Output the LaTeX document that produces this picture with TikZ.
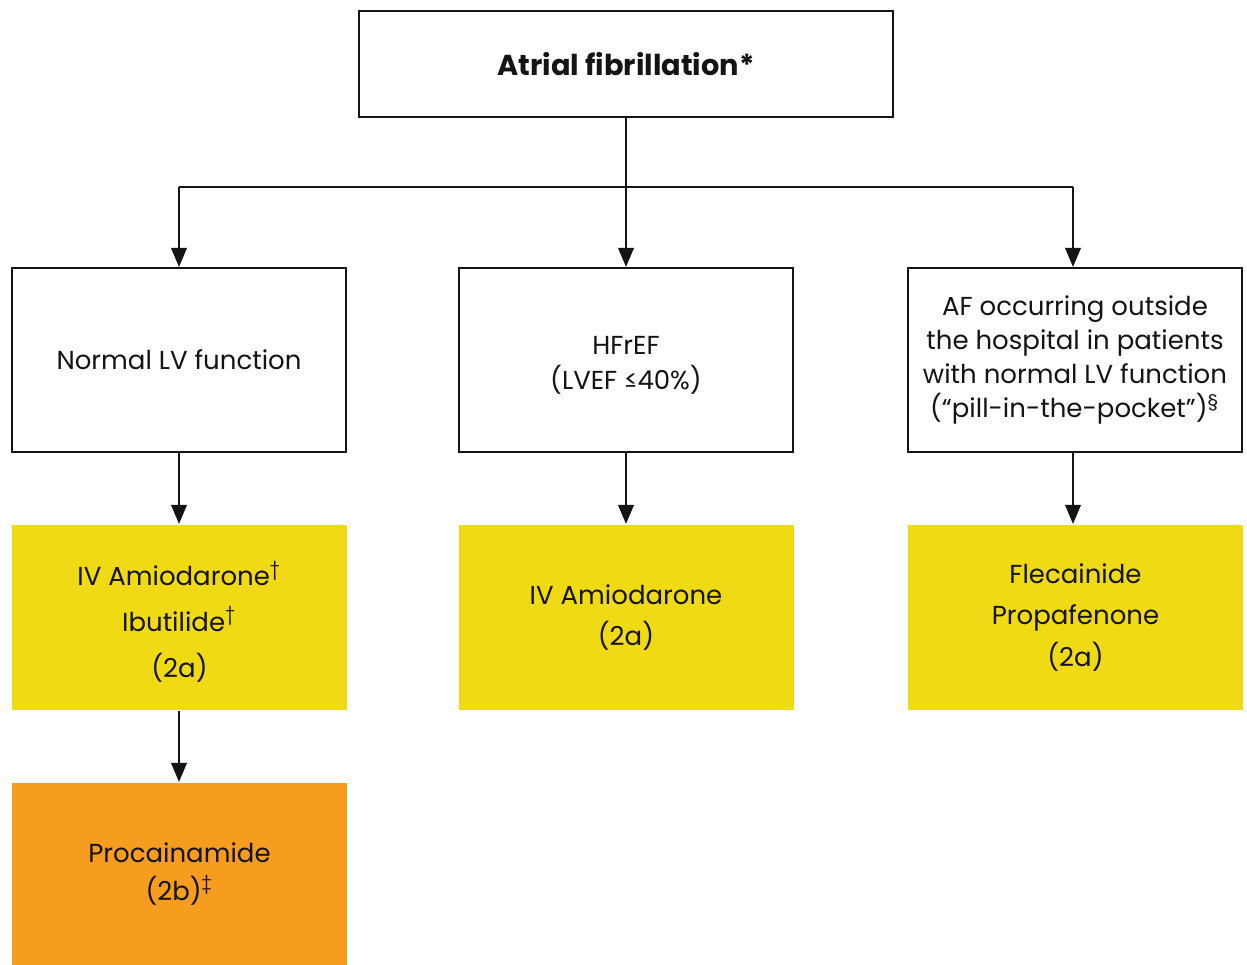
\documentclass[tikz,border=0pt]{standalone}
\usepackage{fontspec}
\setmainfont{Poppins}
\usetikzlibrary{arrows.meta}
\definecolor{ylw}{RGB}{240,218,20}
\definecolor{org}{RGB}{246,156,30}
\definecolor{ink}{RGB}{20,20,20}
\tikzset{
  box/.style={draw=ink, line width=0.6pt, minimum width=3.34cm, minimum height=1.84cm, inner sep=0pt, align=center, font=\fontsize{7.4}{9.7}\selectfont, text=ink},
  ybox/.style={box, draw=none, fill=ylw, minimum width=3.35cm, minimum height=1.85cm, font=\fontsize{7.4}{13}\selectfont},
  obox/.style={box, draw=none, fill=org, minimum width=3.35cm, minimum height=1.82cm, font=\fontsize{7.4}{10.8}\selectfont},
  conn/.style={draw=ink, line width=0.6pt, -{Triangle[width=4.4pt,length=5.4pt]}},
  plain/.style={draw=ink, line width=0.6pt}
}
\begin{document}
\begin{tikzpicture}
\useasboundingbox (0,0) rectangle (12.47,-9.65);
\fill[white] (0,0) rectangle (12.47,-9.65);
\node[box, minimum width=5.34cm, minimum height=1.06cm, font=\fontsize{8.2}{10}\selectfont\bfseries] (top) at (6.26,-0.64) {Atrial fibrillation*};
\node[box] (nlv) at (1.79,-3.60) {Normal LV function};
\node[box, font=\fontsize{7.4}{10}\selectfont] (hf) at (6.26,-3.60) {\rule{0pt}{2.0ex}HFrEF\\(LVEF ≤40\%)};
\node[box] (af) at (10.75,-3.60) {AF occurring outside\\the hospital in patients\\with normal LV function\\(“pill-in-the-pocket”)\textsuperscript{§}};
\node[ybox] (y1) at (1.795,-6.175) {\rule{0pt}{2.3ex}IV Amiodarone\textsuperscript{†}\\Ibutilide\textsuperscript{†}\\(2a)};
\node[ybox, font=\fontsize{7.4}{11.9}\selectfont] (y2) at (6.26,-6.175) {IV Amiodarone\\(2a)};
\node[ybox, font=\fontsize{7.4}{11.9}\selectfont] (y3) at (10.755,-6.175) {Flecainide\\Propafenone\\(2a)};
\node[obox] (o1) at (1.795,-8.74) {Procainamide\\(2b)\textsuperscript{‡}};
\coordinate (hl) at (1.79,-1.87);
\coordinate (hr) at (10.73,-1.87);
\draw[plain] (hl) -- (hr);
\draw[conn] (top.south) -- (hf.north);
\draw[conn] (hl) -- (hl |- nlv.north);
\draw[conn] (hr) -- (hr |- af.north);
\draw[conn] (nlv.south) -- (y1.north -| nlv.south);
\draw[conn] (hf.south) -- (y2.north -| hf.south);
\draw[conn] (af.south -| hr) -- (y3.north -| hr);
\draw[conn] (y1.south -| nlv.south) -- (o1.north -| nlv.south);
\end{tikzpicture}
\end{document}
